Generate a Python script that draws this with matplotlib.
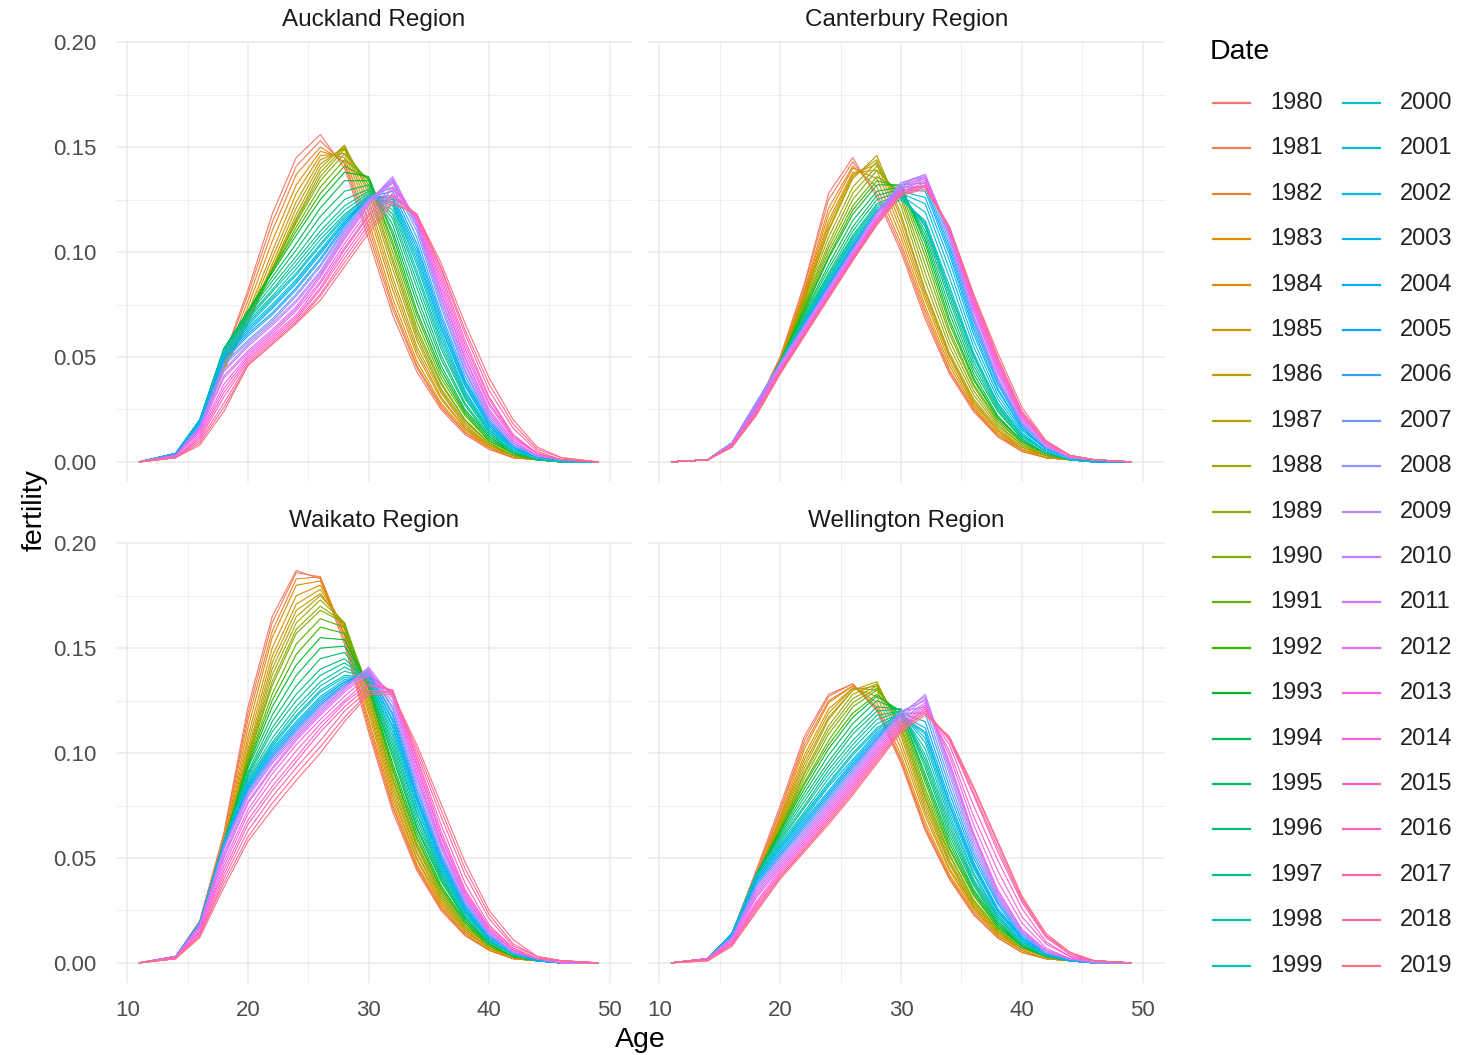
import numpy as np
import matplotlib.pyplot as plt
from matplotlib.lines import Line2D
from matplotlib.ticker import MultipleLocator

plt.rcParams['font.family'] = ['Liberation Sans', 'DejaVu Sans']

ages = [11, 14, 16, 18, 20, 22, 24, 26, 28, 30, 32, 34, 36, 38, 40, 42, 44, 46, 49]
years = list(range(1980, 2020))
regions = ['Auckland Region', 'Canterbury Region', 'Waikato Region', 'Wellington Region']

auckland = [
    [0, 3, 18, 50, 82, 118, 145, 156, 140, 106, 70, 43, 25, 13, 6, 2, 1, 0, 0],
    [0, 3, 18, 49, 80, 114, 141, 153, 142, 109, 73, 45, 26, 14, 6, 2, 1, 0, 0],
    [0, 3, 17, 47, 77, 110, 137, 150, 143, 112, 75, 46, 27, 14, 7, 2, 1, 0, 0],
    [0, 3, 17, 46, 74, 105, 132, 148, 145, 115, 78, 48, 28, 15, 7, 2, 1, 0, 0],
    [0, 3, 17, 45, 71, 100, 128, 146, 147, 119, 82, 51, 30, 16, 7, 3, 1, 0, 0],
    [0, 3, 16, 45, 69, 97, 124, 144, 149, 122, 85, 53, 31, 16, 8, 3, 1, 0, 0],
    [0, 3, 16, 44, 67, 94, 121, 142, 150, 125, 88, 55, 33, 17, 8, 3, 1, 0, 0],
    [0, 3, 16, 44, 66, 92, 118, 140, 151, 128, 92, 58, 34, 18, 8, 3, 1, 0, 0],
    [0, 3, 17, 46, 67, 91, 116, 138, 150, 130, 95, 60, 35, 19, 9, 3, 1, 0, 0],
    [0, 3, 17, 48, 69, 92, 115, 136, 149, 132, 97, 62, 37, 20, 9, 3, 1, 0, 0],
    [0, 3, 18, 50, 70, 92, 114, 134, 147, 134, 100, 64, 38, 20, 9, 3, 1, 0, 0],
    [0, 3, 19, 52, 71, 91, 112, 131, 144, 135, 103, 67, 40, 22, 10, 4, 1, 0, 0],
    [0, 4, 19, 53, 72, 91, 110, 128, 141, 135, 105, 70, 42, 23, 10, 4, 1, 0, 0],
    [0, 4, 20, 54, 72, 90, 108, 125, 138, 136, 108, 72, 44, 24, 11, 4, 1, 0, 0],
    [0, 4, 20, 54, 71, 88, 104, 121, 134, 134, 110, 76, 46, 25, 12, 4, 1, 0, 0],
    [0, 4, 20, 54, 71, 86, 101, 117, 129, 132, 113, 79, 49, 27, 12, 5, 1, 0, 0],
    [0, 4, 20, 54, 70, 84, 98, 113, 125, 130, 116, 83, 51, 28, 13, 5, 1, 0, 0],
    [0, 4, 20, 53, 69, 82, 96, 110, 122, 129, 118, 86, 54, 30, 14, 5, 1, 0, 0],
    [0, 4, 20, 53, 68, 81, 94, 108, 120, 128, 120, 89, 56, 31, 14, 5, 2, 0, 0],
    [0, 4, 20, 52, 67, 79, 92, 106, 118, 127, 122, 91, 58, 32, 15, 6, 2, 0, 0],
    [0, 4, 20, 52, 66, 78, 90, 104, 117, 127, 123, 94, 60, 33, 15, 6, 2, 0, 0],
    [0, 4, 20, 51, 65, 77, 89, 103, 116, 126, 124, 96, 62, 34, 16, 6, 2, 0, 0],
    [0, 4, 19, 51, 64, 75, 87, 101, 115, 126, 125, 98, 64, 36, 17, 6, 2, 1, 0],
    [0, 4, 19, 50, 63, 74, 86, 100, 114, 126, 126, 100, 65, 37, 17, 7, 2, 1, 0],
    [0, 4, 19, 50, 62, 73, 85, 99, 114, 126, 127, 102, 67, 38, 18, 7, 2, 1, 0],
    [0, 4, 18, 49, 61, 71, 83, 97, 113, 126, 129, 104, 69, 39, 19, 7, 2, 1, 0],
    [0, 4, 18, 48, 60, 70, 82, 96, 112, 126, 131, 107, 71, 41, 19, 8, 2, 1, 0],
    [0, 3, 17, 47, 58, 68, 80, 94, 111, 125, 133, 110, 74, 43, 20, 8, 3, 1, 0],
    [0, 3, 17, 46, 57, 67, 79, 93, 110, 125, 134, 112, 76, 44, 21, 8, 3, 1, 0],
    [0, 3, 16, 44, 56, 66, 77, 91, 109, 124, 135, 113, 78, 46, 22, 9, 3, 1, 0],
    [0, 3, 16, 43, 55, 65, 76, 90, 108, 124, 136, 114, 79, 47, 23, 9, 3, 1, 0],
    [0, 3, 15, 41, 53, 63, 74, 89, 107, 123, 134, 115, 81, 49, 24, 10, 3, 1, 0],
    [0, 3, 15, 40, 52, 62, 73, 88, 106, 122, 133, 115, 82, 50, 25, 10, 3, 1, 0],
    [0, 3, 14, 37, 51, 61, 72, 86, 104, 120, 131, 116, 84, 52, 27, 11, 4, 1, 0],
    [0, 2, 13, 35, 50, 60, 70, 85, 102, 118, 130, 117, 86, 54, 28, 12, 4, 1, 0],
    [0, 2, 12, 33, 49, 59, 69, 83, 101, 117, 128, 117, 88, 56, 30, 12, 4, 1, 0],
    [0, 2, 11, 31, 48, 58, 68, 82, 99, 115, 127, 118, 90, 58, 31, 13, 4, 1, 0],
    [0, 2, 10, 28, 47, 57, 67, 80, 97, 113, 126, 118, 92, 61, 34, 16, 5, 1, 0],
    [0, 2, 9, 26, 46, 56, 66, 79, 95, 111, 124, 118, 93, 63, 37, 18, 6, 2, 0],
    [0, 2, 8, 24, 46, 56, 66, 77, 93, 109, 123, 118, 95, 66, 40, 20, 7, 2, 0],
]

canterbury = [
    [0, 1, 8, 26, 50, 85, 128, 145, 126, 100, 68, 42, 24, 12, 5, 2, 1, 0, 0],
    [0, 1, 8, 26, 50, 84, 125, 143, 128, 102, 70, 43, 25, 12, 5, 2, 1, 0, 0],
    [0, 1, 8, 25, 49, 82, 121, 141, 131, 104, 72, 44, 25, 13, 5, 2, 1, 0, 0],
    [0, 1, 8, 25, 49, 81, 118, 140, 135, 107, 74, 46, 26, 13, 6, 2, 1, 0, 0],
    [0, 1, 8, 25, 48, 80, 115, 138, 139, 110, 77, 48, 27, 14, 6, 2, 1, 0, 0],
    [0, 1, 8, 25, 48, 79, 113, 137, 142, 113, 79, 50, 28, 15, 6, 3, 1, 0, 0],
    [0, 1, 8, 25, 48, 78, 111, 136, 144, 116, 81, 51, 29, 15, 7, 3, 1, 0, 0],
    [0, 1, 8, 25, 48, 78, 110, 135, 146, 118, 82, 52, 30, 16, 7, 3, 1, 0, 0],
    [0, 1, 8, 25, 48, 77, 107, 131, 143, 122, 86, 55, 32, 17, 8, 3, 1, 0, 0],
    [0, 1, 8, 25, 48, 76, 104, 128, 141, 125, 90, 58, 34, 18, 8, 3, 1, 0, 0],
    [0, 1, 8, 26, 48, 75, 102, 125, 139, 127, 94, 61, 36, 19, 9, 3, 1, 0, 0],
    [0, 1, 8, 26, 48, 74, 100, 122, 136, 129, 98, 63, 37, 20, 9, 4, 1, 0, 0],
    [0, 1, 8, 26, 48, 73, 98, 120, 134, 131, 101, 66, 39, 21, 10, 4, 1, 0, 0],
    [0, 1, 8, 26, 48, 72, 97, 118, 132, 132, 104, 68, 40, 21, 10, 4, 1, 0, 0],
    [0, 1, 8, 26, 48, 71, 94, 115, 129, 131, 106, 71, 42, 22, 10, 4, 1, 0, 0],
    [0, 1, 9, 27, 48, 70, 92, 112, 127, 130, 108, 74, 44, 24, 11, 4, 1, 0, 0],
    [0, 1, 9, 27, 48, 69, 90, 110, 125, 129, 110, 77, 46, 25, 11, 4, 1, 0, 0],
    [0, 1, 9, 27, 47, 68, 89, 108, 123, 128, 112, 79, 48, 26, 12, 5, 1, 0, 0],
    [0, 1, 9, 27, 47, 68, 88, 107, 122, 127, 113, 81, 50, 27, 12, 5, 1, 0, 0],
    [0, 1, 9, 27, 47, 67, 87, 106, 121, 126, 114, 82, 51, 28, 13, 5, 1, 0, 0],
    [0, 1, 9, 27, 47, 67, 87, 105, 120, 125, 115, 84, 52, 28, 13, 5, 1, 0, 0],
    [0, 1, 9, 27, 47, 66, 86, 104, 120, 127, 119, 88, 55, 30, 14, 5, 1, 0, 0],
    [0, 1, 9, 28, 47, 66, 85, 103, 119, 128, 123, 92, 58, 32, 15, 6, 2, 0, 0],
    [0, 1, 9, 28, 47, 66, 85, 103, 119, 129, 126, 96, 61, 34, 16, 6, 2, 0, 0],
    [0, 1, 9, 28, 47, 66, 84, 102, 119, 130, 129, 99, 63, 35, 16, 6, 2, 0, 0],
    [0, 1, 9, 28, 47, 65, 84, 102, 119, 131, 131, 101, 65, 37, 17, 6, 2, 0, 0],
    [0, 1, 9, 28, 47, 65, 84, 102, 119, 132, 133, 103, 67, 38, 18, 7, 2, 1, 0],
    [0, 1, 9, 28, 47, 65, 83, 101, 119, 132, 135, 105, 68, 39, 18, 7, 2, 1, 0],
    [0, 1, 9, 28, 47, 65, 83, 101, 119, 133, 136, 107, 69, 40, 19, 7, 2, 1, 0],
    [0, 1, 9, 28, 47, 65, 83, 101, 119, 133, 137, 108, 70, 40, 19, 7, 2, 1, 0],
    [0, 1, 9, 27, 46, 64, 82, 100, 118, 132, 137, 109, 72, 42, 20, 8, 2, 1, 0],
    [0, 1, 8, 26, 45, 63, 81, 99, 117, 131, 136, 110, 73, 43, 21, 8, 2, 1, 0],
    [0, 1, 8, 25, 45, 63, 81, 99, 116, 130, 135, 110, 74, 44, 21, 8, 3, 1, 0],
    [0, 1, 8, 25, 44, 62, 80, 98, 116, 130, 134, 111, 75, 45, 22, 9, 3, 1, 0],
    [0, 1, 8, 24, 44, 62, 80, 98, 115, 129, 133, 111, 76, 46, 22, 9, 3, 1, 0],
    [0, 1, 8, 24, 43, 61, 79, 97, 115, 129, 132, 111, 77, 47, 23, 9, 3, 1, 0],
    [0, 1, 8, 23, 43, 61, 79, 97, 114, 128, 132, 112, 78, 48, 23, 9, 3, 1, 0],
    [0, 1, 7, 23, 43, 61, 79, 96, 114, 128, 131, 112, 79, 49, 24, 10, 3, 1, 0],
    [0, 1, 7, 22, 42, 60, 78, 96, 113, 127, 131, 112, 80, 50, 24, 10, 3, 1, 0],
    [0, 1, 7, 22, 42, 60, 78, 96, 113, 127, 130, 112, 80, 52, 26, 10, 3, 1, 0],
]

waikato = [
    [0, 3, 20, 62, 122, 165, 187, 183, 152, 110, 72, 44, 25, 13, 6, 2, 1, 0, 0],
    [0, 3, 20, 61, 119, 162, 186, 184, 154, 112, 74, 45, 26, 13, 6, 2, 1, 0, 0],
    [0, 3, 19, 60, 116, 158, 183, 184, 156, 114, 75, 46, 26, 14, 6, 2, 1, 0, 0],
    [0, 3, 19, 58, 112, 155, 180, 182, 157, 116, 77, 47, 27, 14, 6, 2, 1, 0, 0],
    [0, 3, 19, 57, 108, 150, 175, 180, 159, 119, 79, 49, 28, 15, 7, 2, 1, 0, 0],
    [0, 3, 18, 56, 105, 146, 171, 178, 160, 121, 81, 50, 29, 15, 7, 3, 1, 0, 0],
    [0, 3, 18, 55, 102, 143, 168, 176, 161, 123, 83, 52, 30, 16, 7, 3, 1, 0, 0],
    [0, 3, 18, 55, 100, 140, 165, 175, 162, 125, 85, 53, 31, 16, 7, 3, 1, 0, 0],
    [0, 3, 18, 55, 99, 137, 162, 173, 162, 127, 87, 55, 32, 17, 8, 3, 1, 0, 0],
    [0, 3, 18, 56, 98, 134, 159, 170, 162, 128, 88, 56, 33, 17, 8, 3, 1, 0, 0],
    [0, 3, 18, 56, 97, 132, 157, 168, 162, 130, 90, 57, 34, 18, 8, 3, 1, 0, 0],
    [0, 3, 18, 57, 96, 128, 152, 164, 160, 131, 92, 59, 35, 19, 8, 3, 1, 0, 0],
    [0, 3, 19, 57, 95, 125, 147, 160, 157, 131, 93, 60, 36, 19, 9, 3, 1, 0, 0],
    [0, 3, 19, 58, 94, 122, 142, 155, 154, 132, 95, 62, 37, 20, 9, 3, 1, 0, 0],
    [0, 3, 19, 58, 93, 118, 137, 150, 151, 133, 98, 64, 39, 21, 9, 3, 1, 0, 0],
    [0, 3, 19, 58, 91, 115, 132, 145, 148, 133, 100, 65, 40, 21, 10, 4, 1, 0, 0],
    [0, 3, 19, 58, 90, 112, 128, 140, 145, 134, 102, 67, 41, 22, 10, 4, 1, 0, 0],
    [0, 3, 19, 58, 89, 110, 125, 137, 143, 135, 104, 69, 42, 22, 10, 4, 1, 0, 0],
    [0, 3, 19, 57, 88, 107, 122, 134, 141, 135, 106, 71, 43, 23, 11, 4, 1, 0, 0],
    [0, 3, 19, 57, 87, 105, 120, 132, 139, 136, 108, 72, 44, 24, 11, 4, 1, 0, 0],
    [0, 3, 19, 57, 86, 104, 118, 130, 137, 136, 110, 74, 45, 24, 11, 4, 1, 0, 0],
    [0, 3, 19, 57, 85, 103, 117, 129, 136, 137, 112, 75, 46, 25, 11, 4, 1, 0, 0],
    [0, 3, 19, 57, 85, 102, 115, 127, 135, 137, 113, 77, 47, 25, 12, 5, 1, 0, 0],
    [0, 3, 19, 57, 84, 101, 114, 126, 134, 138, 115, 78, 48, 26, 12, 5, 1, 0, 0],
    [0, 3, 19, 57, 84, 100, 113, 125, 134, 138, 116, 79, 49, 26, 12, 5, 1, 0, 0],
    [0, 3, 19, 56, 83, 99, 112, 124, 133, 139, 118, 80, 50, 27, 13, 5, 1, 0, 0],
    [0, 3, 18, 56, 82, 98, 111, 123, 133, 139, 119, 82, 51, 28, 13, 5, 2, 0, 0],
    [0, 3, 18, 55, 82, 98, 111, 123, 132, 140, 121, 83, 52, 28, 13, 5, 2, 0, 0],
    [0, 3, 18, 55, 81, 97, 110, 122, 132, 140, 122, 85, 53, 29, 14, 5, 2, 0, 0],
    [0, 3, 18, 54, 80, 96, 109, 121, 131, 140, 124, 87, 55, 30, 14, 5, 2, 0, 0],
    [0, 3, 18, 52, 79, 95, 108, 120, 131, 141, 126, 89, 56, 31, 15, 6, 2, 0, 0],
    [0, 3, 17, 51, 77, 93, 107, 119, 130, 139, 127, 90, 57, 31, 15, 6, 2, 0, 0],
    [0, 3, 17, 50, 76, 92, 106, 118, 129, 138, 128, 92, 58, 32, 15, 6, 2, 0, 0],
    [0, 3, 16, 48, 73, 90, 104, 116, 127, 137, 129, 94, 60, 33, 16, 6, 2, 1, 0],
    [0, 3, 15, 46, 71, 87, 101, 114, 125, 135, 129, 95, 61, 34, 16, 6, 2, 1, 0],
    [0, 2, 15, 44, 68, 84, 98, 112, 124, 133, 130, 97, 63, 35, 17, 7, 2, 1, 0],
    [0, 2, 14, 42, 66, 82, 96, 110, 122, 132, 130, 98, 66, 38, 18, 7, 2, 1, 0],
    [0, 2, 13, 40, 63, 79, 93, 106, 120, 130, 129, 100, 70, 42, 21, 8, 3, 1, 0],
    [0, 2, 13, 38, 60, 76, 90, 103, 117, 129, 129, 102, 73, 45, 23, 9, 3, 1, 0],
    [0, 2, 12, 36, 58, 73, 87, 100, 115, 128, 128, 104, 76, 48, 25, 11, 3, 1, 0],
]

wellington = [
    [0, 2, 14, 44, 75, 108, 128, 133, 120, 95, 63, 40, 23, 12, 5, 2, 1, 0, 0],
    [0, 2, 14, 43, 73, 106, 127, 133, 121, 96, 64, 40, 23, 12, 5, 2, 1, 0, 0],
    [0, 2, 13, 42, 72, 104, 125, 132, 122, 97, 65, 41, 24, 12, 5, 2, 1, 0, 0],
    [0, 2, 13, 41, 70, 102, 124, 132, 124, 99, 67, 42, 25, 13, 6, 2, 1, 0, 0],
    [0, 2, 13, 41, 69, 99, 121, 131, 127, 102, 70, 44, 26, 13, 6, 2, 1, 0, 0],
    [0, 2, 13, 40, 68, 97, 119, 131, 130, 105, 72, 45, 27, 14, 6, 2, 1, 0, 0],
    [0, 2, 13, 40, 67, 95, 117, 130, 132, 108, 74, 47, 27, 14, 7, 3, 1, 0, 0],
    [0, 2, 13, 40, 66, 93, 116, 130, 134, 110, 76, 48, 28, 15, 7, 3, 1, 0, 0],
    [0, 2, 13, 40, 65, 91, 113, 128, 133, 112, 78, 49, 29, 15, 7, 3, 1, 0, 0],
    [0, 2, 13, 40, 64, 90, 111, 126, 132, 113, 79, 51, 30, 16, 7, 3, 1, 0, 0],
    [0, 2, 13, 40, 64, 88, 109, 124, 131, 115, 81, 52, 30, 16, 7, 3, 1, 0, 0],
    [0, 2, 13, 41, 64, 86, 106, 122, 130, 117, 83, 54, 32, 17, 8, 3, 1, 0, 0],
    [0, 2, 14, 41, 63, 85, 104, 119, 128, 118, 86, 55, 33, 17, 8, 3, 1, 0, 0],
    [0, 2, 14, 42, 63, 83, 102, 117, 127, 120, 88, 57, 34, 18, 8, 3, 1, 0, 0],
    [0, 2, 14, 42, 62, 81, 99, 114, 125, 120, 90, 59, 35, 19, 8, 3, 1, 0, 0],
    [0, 2, 14, 42, 61, 79, 96, 111, 122, 121, 93, 61, 37, 19, 9, 3, 1, 0, 0],
    [0, 2, 14, 42, 60, 77, 94, 109, 120, 121, 95, 63, 38, 20, 9, 3, 1, 0, 0],
    [0, 2, 14, 42, 59, 75, 92, 106, 118, 120, 97, 65, 39, 21, 9, 4, 1, 0, 0],
    [0, 2, 14, 41, 58, 74, 90, 104, 116, 120, 99, 67, 40, 22, 10, 4, 1, 0, 0],
    [0, 2, 14, 41, 57, 72, 88, 102, 114, 119, 102, 69, 42, 22, 10, 4, 1, 0, 0],
    [0, 2, 14, 41, 56, 71, 86, 100, 112, 119, 105, 71, 43, 23, 10, 4, 1, 0, 0],
    [0, 2, 14, 40, 55, 70, 85, 99, 111, 119, 107, 73, 45, 24, 11, 4, 1, 0, 0],
    [0, 2, 13, 40, 55, 69, 84, 97, 110, 118, 109, 75, 46, 25, 11, 4, 1, 0, 0],
    [0, 2, 13, 39, 54, 68, 82, 96, 109, 118, 110, 76, 47, 25, 12, 4, 1, 0, 0],
    [0, 2, 13, 39, 53, 67, 81, 95, 108, 118, 112, 78, 48, 26, 12, 4, 1, 0, 0],
    [0, 2, 13, 38, 52, 66, 80, 94, 107, 119, 115, 81, 50, 28, 12, 5, 1, 0, 0],
    [0, 2, 13, 37, 51, 65, 79, 93, 107, 119, 119, 84, 52, 29, 13, 5, 1, 0, 0],
    [0, 2, 12, 37, 51, 64, 78, 92, 106, 120, 122, 87, 54, 30, 14, 5, 2, 0, 0],
    [0, 2, 12, 36, 50, 63, 77, 91, 106, 120, 125, 90, 56, 31, 14, 5, 2, 0, 0],
    [0, 2, 12, 35, 49, 62, 76, 90, 105, 119, 127, 92, 58, 32, 15, 5, 2, 0, 0],
    [0, 2, 12, 34, 48, 61, 75, 89, 104, 118, 128, 94, 60, 33, 15, 6, 2, 1, 0],
    [0, 2, 11, 33, 47, 60, 74, 88, 103, 117, 126, 95, 61, 34, 16, 6, 2, 1, 0],
    [0, 2, 11, 32, 46, 59, 73, 87, 102, 116, 124, 96, 62, 35, 16, 6, 2, 1, 0],
    [0, 2, 10, 31, 45, 58, 72, 86, 101, 115, 123, 99, 66, 39, 19, 7, 2, 1, 0],
    [0, 2, 10, 29, 44, 57, 71, 85, 100, 114, 122, 101, 70, 44, 22, 9, 3, 1, 0],
    [0, 2, 9, 28, 43, 56, 70, 84, 99, 113, 121, 104, 75, 49, 26, 10, 3, 1, 0],
    [0, 2, 9, 27, 42, 55, 69, 83, 98, 112, 121, 106, 80, 53, 29, 12, 4, 1, 0],
    [0, 1, 9, 26, 41, 54, 68, 82, 97, 111, 120, 107, 81, 55, 30, 13, 4, 1, 0],
    [0, 1, 8, 25, 41, 54, 67, 81, 96, 111, 119, 107, 83, 57, 31, 13, 5, 1, 0],
    [0, 1, 8, 24, 40, 53, 66, 80, 95, 110, 118, 108, 84, 58, 32, 14, 5, 1, 0],
]

region_data = [auckland, canterbury, waikato, wellington]


def hue_pal(n, h0=15, h1=375, c=100, l=65):
    # ggplot2 default discrete palette (HCL), converted to sRGB
    hues = np.linspace(h0, h1, n + 1)[:n]
    xn, yn, zn = 95.047, 100.0, 108.883
    un = 4 * xn / (xn + 15 * yn + 3 * zn)
    vn = 9 * yn / (xn + 15 * yn + 3 * zn)
    out = []
    for h in hues:
        u = c * np.cos(np.radians(h))
        v = c * np.sin(np.radians(h))
        y = yn * ((l + 16) / 116) ** 3
        up = u / (13 * l) + un
        vp = v / (13 * l) + vn
        x = y * 9 * up / (4 * vp)
        z = y * (12 - 3 * up - 20 * vp) / (4 * vp)
        x, y, z = x / 100, y / 100, z / 100
        rgb = np.array([3.2404542 * x - 1.5371385 * y - 0.4985314 * z,
                        -0.9692660 * x + 1.8760108 * y + 0.0415560 * z,
                        0.0556434 * x - 0.2040259 * y + 1.0572252 * z])
        rgb = np.where(rgb <= 0.0031308, 12.92 * rgb, 1.055 * np.abs(rgb) ** (1 / 2.4) - 0.055)
        out.append(tuple(np.clip(rgb, 0, 1)))
    return out


colors = hue_pal(len(years))

W, H = 1473, 1055
fig = plt.figure(figsize=(W / 100, H / 100), dpi=100)


def px_rect(x0, y0, x1, y1):
    return [x0 / W, 1 - y1 / H, (x1 - x0) / W, (y1 - y0) / H]


rects = [px_rect(116, 41, 632, 482), px_rect(648, 41, 1165, 482),
         px_rect(116, 542, 632, 983), px_rect(648, 542, 1165, 983)]

for i, (name, data) in enumerate(zip(regions, region_data)):
    ax = fig.add_axes(rects[i])
    vals = np.array(data) / 1000
    for j, yr in enumerate(years):
        ax.plot(ages, vals[j], color=colors[j], lw=0.8)
    ax.set_xlim(9.05, 51.85)
    ax.set_ylim(-0.0096, 0.2006)
    ax.xaxis.set_major_locator(MultipleLocator(10))
    ax.xaxis.set_minor_locator(MultipleLocator(5))
    ax.yaxis.set_major_locator(MultipleLocator(0.05))
    ax.yaxis.set_minor_locator(MultipleLocator(0.025))
    ax.grid(True, which='major', color='#EBEBEB', lw=1.1)
    ax.grid(True, which='minor', color='#EBEBEB', lw=0.6)
    ax.set_axisbelow(True)
    for s in ax.spines.values():
        s.set_visible(False)
    ax.tick_params(which='both', length=0, labelsize=16, labelcolor='#4D4D4D')
    ax.tick_params(axis='y', pad=14)
    ax.tick_params(axis='x', pad=12)
    ax.yaxis.set_major_formatter(lambda v, p: f'{v:.2f}')
    if i % 2 == 1:
        ax.tick_params(axis='y', labelleft=False)
    if i < 2:
        ax.tick_params(axis='x', labelbottom=False)
    ax.set_title(name, fontsize=17.5, color='#1A1A1A', pad=10.5)

fig.text(640 / W, 1 - 1040 / H, 'Age', fontsize=20.5, ha='center', va='center')
fig.text(35 / W, 1 - 510 / H, 'fertility', fontsize=20.5, ha='center', va='center', rotation=90)

# legend, two columns of twenty
fig.text(1210 / W, 1 - 52 / H, 'Date', fontsize=20.5, ha='left', va='center')
for j, yr in enumerate(years):
    col, row = divmod(j, 20)
    x0 = 1213 + col * 130
    yc = 1 - (103 + row * 45.4) / H
    fig.add_artist(Line2D([x0 / W, (x0 + 37) / W], [yc, yc], color=colors[j], lw=1.6))
    fig.text((x0 + 57) / W, yc, str(yr), fontsize=17, ha='left', va='center', color='#222222')

fig.savefig('out.png', dpi=100)
